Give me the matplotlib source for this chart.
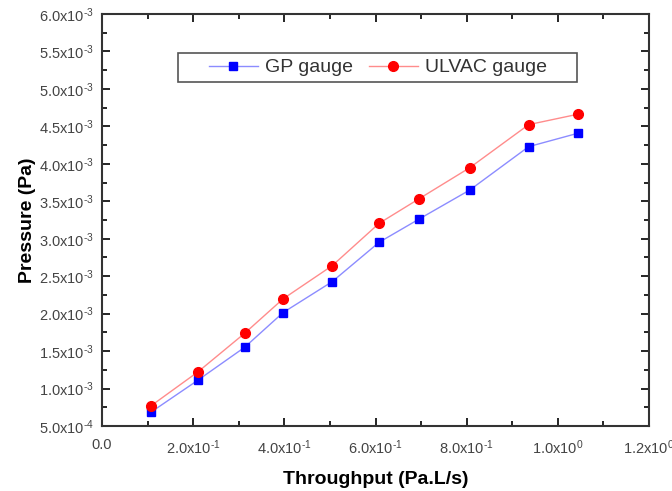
import math
import matplotlib
matplotlib.use("Agg")
import matplotlib.pyplot as plt
from matplotlib.ticker import MultipleLocator, FuncFormatter
from matplotlib.patches import Rectangle

throughput = [0.107, 0.211, 0.313, 0.397, 0.505, 0.608, 0.696, 0.807, 0.936, 1.044]
gp_gauge = [0.683e-3, 1.114e-3, 1.551e-3, 2.013e-3, 2.427e-3, 2.953e-3, 3.264e-3, 3.651e-3, 4.229e-3, 4.408e-3]
ulvac_gauge = [0.767e-3, 1.225e-3, 1.738e-3, 2.196e-3, 2.640e-3, 3.206e-3, 3.535e-3, 3.949e-3, 4.523e-3, 4.662e-3]

plt.rcParams['font.family'] = ['Liberation Sans', 'DejaVu Sans']
plt.rcParams['mathtext.fontset'] = 'custom'
plt.rcParams['mathtext.rm'] = 'Liberation Sans'

fig = plt.figure(figsize=(6.72, 4.91), dpi=100)
ax = fig.add_axes([0.1518, 0.1324, 0.814, 0.8391])

ax.plot(throughput, gp_gauge, color='#8c8cff', lw=1, marker='s', ms=6,
        mfc='#0000ff', mec='#0000ff', label='GP gauge')
ax.plot(throughput, ulvac_gauge, color='#ff8c8c', lw=1, marker='o', ms=7,
        mfc='#ff0000', mec='#ff0000', label='ULVAC gauge')

ax.set_xlim(0, 1.2)
ax.set_ylim(0.5e-3, 6.0e-3)

def sci(v, pos):
    if abs(v) < 1e-12:
        return '0.0'
    e = int(math.floor(math.log10(abs(v)) + 1e-9))
    m = v / 10**e
    es = ('\\text{-}%d' % (-e)) if e < 0 else ('%d' % e)
    return r'$\mathregular{%.1fx10^{%s}}$' % (m, es)

ax.xaxis.set_major_locator(MultipleLocator(0.2))
ax.xaxis.set_minor_locator(MultipleLocator(0.1))
ax.yaxis.set_major_locator(MultipleLocator(0.5e-3))
ax.yaxis.set_minor_locator(MultipleLocator(0.25e-3))
ax.xaxis.set_major_formatter(FuncFormatter(sci))
ax.yaxis.set_major_formatter(FuncFormatter(sci))

ax.tick_params(which='both', direction='in', top=True, right=True, labelsize=10.5,
               labelcolor='#444444', width=1.2)
ax.tick_params(which='major', length=6)
ax.tick_params(axis='x', which='major', pad=9)
ax.tick_params(axis='y', which='major', pad=6)
ax.tick_params(which='minor', length=3.5)
for s in ax.spines.values():
    s.set_linewidth(1.5)
    s.set_color('#333333')

ax.set_xlabel('Throughput (Pa.L/s)', fontsize=14, fontweight='bold', labelpad=10)
ax.set_ylabel('Pressure (Pa)', fontsize=14, fontweight='bold', labelpad=2)

ax.add_patch(Rectangle((0.139, 0.835), 0.729, 0.071, transform=ax.transAxes,
                       fill=False, edgecolor='#555555', lw=1.2, zorder=4))
leg = ax.legend(loc='center', bbox_to_anchor=(0.505, 0.870), ncol=2,
                fontsize=14, frameon=False,
                handlelength=2.5, columnspacing=0.8, borderpad=0.2, handletextpad=0.4)
for t in leg.get_texts():
    t.set_color('#333333')

fig.savefig('out.png', dpi=100)
